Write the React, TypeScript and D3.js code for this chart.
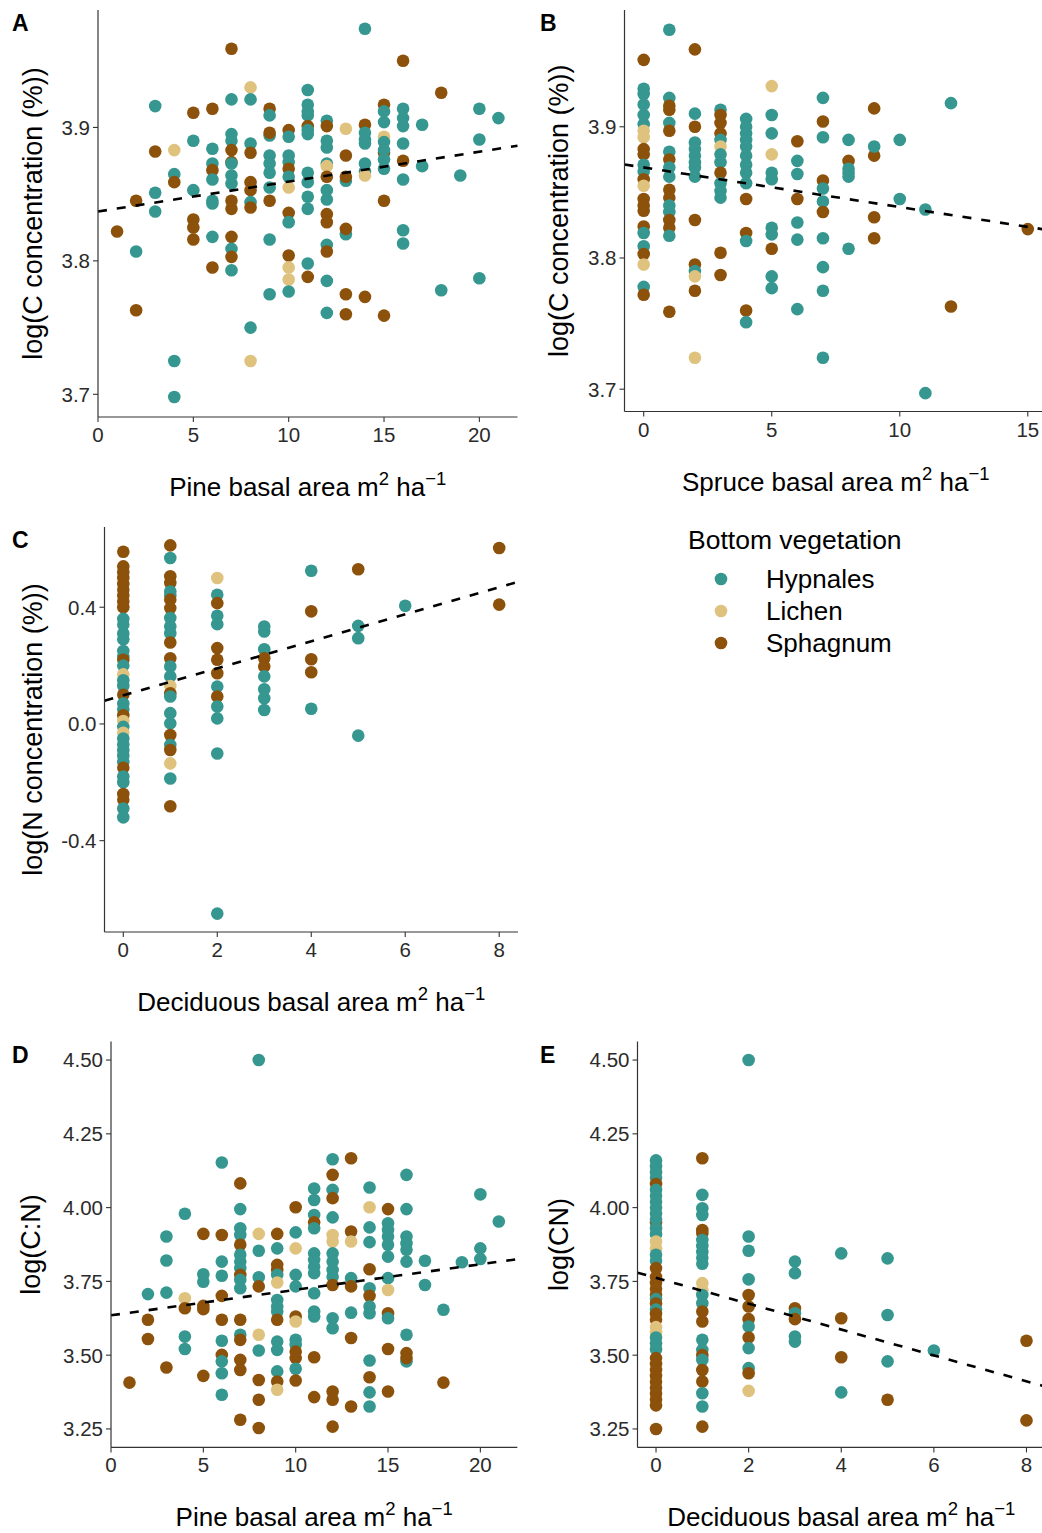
import React from "react";
import * as d3 from "d3";

type G = "H" | "L" | "S";
type Pt = [number, number, G];

const GROUP_KEYS: G[] = ["H", "L", "S"];
const GROUP_NAMES = ["Hypnales", "Lichen", "Sphagnum"];
const GROUP_COLORS = ["#35978f", "#dfc27d", "#8c510a"];
const LEGEND_TITLE = "Bottom vegetation";

// Panel A: pine basal area vs log(C concentration)
const panelA: Pt[] = [
  [1,3.822,"S"],
  [2,3.845,"S"],[2,3.807,"H"],[2,3.763,"S"],
  [3,3.916,"H"],[3,3.882,"S"],[3,3.851,"H"],[3,3.837,"H"],
  [4,3.883,"L"],[4,3.865,"H"],[4,3.859,"S"],[4,3.725,"H"],[4,3.698,"H"],
  [5,3.911,"S"],[5,3.890,"H"],[5,3.853,"H"],[5,3.831,"S"],[5,3.825,"S"],[5,3.816,"S"],
  [6,3.914,"S"],[6,3.884,"H"],[6,3.873,"H"],[6,3.868,"S"],[6,3.861,"H"],[6,3.845,"H"],[6,3.843,"H"],[6,3.818,"H"],[6,3.795,"S"],
  [7,3.959,"S"],[7,3.921,"H"],[7,3.895,"H"],[7,3.890,"H"],[7,3.883,"S"],[7,3.874,"S"],[7,3.873,"H"],[7,3.864,"H"],[7,3.858,"H"],[7,3.845,"S"],[7,3.839,"S"],[7,3.818,"S"],[7,3.809,"H"],[7,3.803,"S"],[7,3.793,"H"],
  [8,3.930,"L"],[8,3.921,"H"],[8,3.888,"H"],[8,3.881,"S"],[8,3.859,"S"],[8,3.853,"S"],[8,3.844,"H"],[8,3.840,"S"],[8,3.750,"H"],[8,3.725,"L"],
  [9,3.914,"S"],[9,3.909,"H"],[9,3.894,"H"],[9,3.896,"S"],[9,3.879,"H"],[9,3.873,"H"],[9,3.866,"H"],[9,3.855,"H"],[9,3.845,"S"],[9,3.816,"H"],[9,3.775,"H"],
  [10,3.898,"S"],[10,3.893,"H"],[10,3.879,"H"],[10,3.874,"H"],[10,3.869,"S"],[10,3.863,"H"],[10,3.855,"L"],[10,3.836,"S"],[10,3.829,"H"],[10,3.804,"S"],[10,3.795,"L"],[10,3.786,"L"],[10,3.777,"H"],
  [11,3.928,"H"],[11,3.917,"H"],[11,3.912,"H"],[11,3.909,"H"],[11,3.901,"S"],[11,3.898,"H"],[11,3.895,"H"],[11,3.866,"H"],[11,3.859,"H"],[11,3.848,"H"],[11,3.839,"H"],[11,3.798,"H"],[11,3.788,"S"],
  [12,3.905,"H"],[12,3.901,"S"],[12,3.890,"H"],[12,3.885,"H"],[12,3.873,"H"],[12,3.871,"L"],[12,3.863,"S"],[12,3.853,"H"],[12,3.846,"H"],[12,3.835,"S"],[12,3.829,"S"],[12,3.812,"H"],[12,3.807,"S"],[12,3.785,"H"],[12,3.761,"H"],
  [13,3.899,"L"],[13,3.879,"S"],[13,3.860,"H"],[13,3.863,"S"],[13,3.820,"H"],[13,3.824,"S"],[13,3.775,"S"],[13,3.760,"S"],
  [14,3.974,"H"],[14,3.902,"S"],[14,3.896,"H"],[14,3.891,"H"],[14,3.888,"H"],[14,3.873,"H"],[14,3.867,"H"],[14,3.864,"L"],[14,3.773,"S"],
  [15,3.917,"S"],[15,3.912,"H"],[15,3.904,"H"],[15,3.893,"L"],[15,3.889,"H"],[15,3.881,"S"],[15,3.883,"H"],[15,3.876,"H"],[15,3.869,"H"],[15,3.845,"S"],[15,3.759,"S"],
  [16,3.950,"S"],[16,3.914,"H"],[16,3.907,"H"],[16,3.901,"H"],[16,3.888,"H"],[16,3.875,"S"],[16,3.861,"H"],[16,3.823,"H"],[16,3.813,"H"],
  [17,3.902,"H"],[17,3.871,"H"],
  [18,3.926,"S"],[18,3.778,"H"],
  [19,3.864,"H"],
  [20,3.914,"H"],[20,3.891,"H"],[20,3.787,"H"],
  [21,3.907,"H"],
];

// Panel B: spruce basal area vs log(C concentration)
const panelB: Pt[] = [
  [0,3.951,"S"],[0,3.929,"H"],[0,3.925,"H"],[0,3.917,"H"],[0,3.909,"H"],[0,3.902,"H"],[0,3.897,"L"],[0,3.892,"L"],[0,3.883,"S"],[0,3.879,"S"],[0,3.871,"H"],[0,3.866,"H"],[0,3.860,"S"],[0,3.855,"L"],[0,3.845,"S"],[0,3.840,"S"],[0,3.836,"S"],[0,3.824,"S"],[0,3.819,"H"],[0,3.809,"H"],[0,3.803,"S"],[0,3.795,"L"],[0,3.778,"H"],[0,3.772,"S"],
  [1,3.974,"H"],[1,3.922,"H"],[1,3.916,"S"],[1,3.913,"S"],[1,3.903,"H"],[1,3.897,"S"],[1,3.881,"H"],[1,3.875,"S"],[1,3.869,"H"],[1,3.862,"H"],[1,3.852,"S"],[1,3.846,"S"],[1,3.840,"H"],[1,3.835,"H"],[1,3.829,"S"],[1,3.823,"S"],[1,3.817,"H"],[1,3.759,"S"],
  [2,3.959,"S"],[2,3.910,"H"],[2,3.900,"S"],[2,3.888,"H"],[2,3.883,"H"],[2,3.878,"H"],[2,3.873,"H"],[2,3.869,"H"],[2,3.862,"H"],[2,3.829,"S"],[2,3.795,"S"],[2,3.790,"H"],[2,3.786,"L"],[2,3.775,"S"],[2,3.724,"L"],
  [3,3.913,"H"],[3,3.909,"S"],[3,3.903,"S"],[3,3.895,"S"],[3,3.890,"H"],[3,3.885,"L"],[3,3.879,"H"],[3,3.873,"H"],[3,3.865,"S"],[3,3.857,"H"],[3,3.851,"H"],[3,3.846,"H"],[3,3.804,"S"],[3,3.787,"S"],
  [4,3.906,"H"],[4,3.900,"H"],[4,3.895,"H"],[4,3.890,"H"],[4,3.885,"H"],[4,3.878,"H"],[4,3.871,"H"],[4,3.865,"H"],[4,3.857,"H"],[4,3.845,"S"],[4,3.819,"S"],[4,3.813,"H"],[4,3.760,"S"],[4,3.751,"H"],
  [5,3.931,"L"],[5,3.909,"H"],[5,3.895,"H"],[5,3.879,"L"],[5,3.865,"H"],[5,3.860,"H"],[5,3.823,"H"],[5,3.818,"H"],[5,3.807,"S"],[5,3.786,"H"],[5,3.777,"H"],
  [6,3.889,"S"],[6,3.874,"H"],[6,3.864,"H"],[6,3.845,"S"],[6,3.827,"H"],[6,3.814,"H"],[6,3.761,"H"],
  [7,3.922,"H"],[7,3.904,"S"],[7,3.892,"H"],[7,3.859,"S"],[7,3.853,"H"],[7,3.843,"H"],[7,3.835,"S"],[7,3.815,"H"],[7,3.793,"H"],[7,3.775,"H"],[7,3.724,"H"],
  [8,3.890,"H"],[8,3.874,"S"],[8,3.868,"H"],[8,3.865,"H"],[8,3.862,"H"],[8,3.807,"H"],
  [9,3.914,"S"],[9,3.878,"S"],[9,3.885,"H"],[9,3.831,"S"],[9,3.815,"S"],
  [10,3.890,"H"],[10,3.845,"H"],
  [11,3.837,"H"],[11,3.697,"H"],
  [12,3.918,"H"],[12,3.763,"S"],
  [15,3.822,"S"],
];

// Panel C: deciduous basal area vs log(N concentration)
const panelC: Pt[] = [
  [0,0.59,"S"],[0,0.54,"S"],[0,0.52,"S"],[0,0.50,"S"],[0,0.48,"S"],[0,0.46,"S"],[0,0.44,"S"],[0,0.42,"S"],[0,0.40,"S"],[0,0.36,"H"],[0,0.34,"H"],[0,0.31,"H"],[0,0.29,"H"],[0,0.25,"H"],[0,0.23,"H"],[0,0.22,"S"],[0,0.20,"H"],[0,0.17,"L"],[0,0.15,"H"],[0,0.13,"H"],[0,0.10,"S"],[0,0.07,"H"],[0,0.05,"H"],[0,0.03,"S"],[0,0.01,"L"],[0,-0.01,"H"],[0,-0.03,"L"],[0,-0.05,"H"],[0,-0.07,"H"],[0,-0.09,"H"],[0,-0.11,"H"],[0,-0.13,"H"],[0,-0.15,"S"],[0,-0.18,"H"],[0,-0.20,"H"],[0,-0.24,"S"],[0,-0.26,"S"],[0,-0.29,"H"],[0,-0.32,"H"],
  [1,0.612,"S"],[1,0.569,"H"],[1,0.506,"S"],[1,0.483,"S"],[1,0.454,"H"],[1,0.44,"H"],[1,0.426,"S"],[1,0.397,"S"],[1,0.363,"H"],[1,0.334,"H"],[1,0.311,"H"],[1,0.279,"S"],[1,0.225,"S"],[1,0.197,"H"],[1,0.163,"H"],[1,0.130,"L"],[1,0.105,"S"],[1,0.094,"H"],[1,0.037,"H"],[1,0.002,"H"],[1,-0.038,"S"],[1,-0.072,"H"],[1,-0.089,"S"],[1,-0.135,"L"],[1,-0.187,"H"],[1,-0.282,"S"],
  [2,0.500,"L"],[2,0.443,"H"],[2,0.414,"S"],[2,0.371,"H"],[2,0.342,"H"],[2,0.260,"S"],[2,0.220,"S"],[2,0.174,"S"],[2,0.128,"H"],[2,0.094,"S"],[2,0.060,"H"],[2,0.019,"H"],[2,-0.101,"H"],[2,-0.650,"H"],
  [3,0.334,"H"],[3,0.317,"H"],[3,0.256,"H"],[3,0.225,"S"],[3,0.197,"S"],[3,0.163,"H"],[3,0.119,"H"],[3,0.088,"H"],[3,0.048,"H"],
  [4,0.525,"H"],[4,0.386,"S"],[4,0.222,"S"],[4,0.177,"S"],[4,0.052,"H"],
  [5,0.530,"S"],[5,0.336,"H"],[5,0.294,"H"],[5,-0.040,"H"],
  [6,0.405,"H"],
  [8,0.603,"S"],[8,0.409,"S"],
];

// Panel D: pine basal area vs log(C:N)
const panelD: Pt[] = [
  [1,3.407,"S"],
  [2,3.707,"H"],[2,3.620,"S"],[2,3.555,"S"],
  [3,3.902,"H"],[3,3.821,"H"],[3,3.712,"H"],[3,3.458,"S"],
  [4,3.979,"H"],[4,3.693,"L"],[4,3.659,"S"],[4,3.563,"H"],[4,3.521,"H"],
  [5,3.911,"S"],[5,3.774,"H"],[5,3.749,"H"],[5,3.667,"S"],[5,3.656,"S"],[5,3.430,"S"],
  [6,4.153,"H"],[6,3.907,"S"],[6,3.817,"H"],[6,3.769,"H"],[6,3.701,"S"],[6,3.620,"S"],[6,3.549,"H"],[6,3.501,"S"],[6,3.479,"H"],[6,3.439,"H"],[6,3.366,"H"],
  [7,4.082,"S"],[7,3.995,"H"],[7,3.930,"H"],[7,3.907,"H"],[7,3.874,"S"],[7,3.840,"H"],[7,3.817,"H"],[7,3.795,"H"],[7,3.772,"S"],[7,3.755,"H"],[7,3.727,"H"],[7,3.620,"S"],[7,3.569,"H"],[7,3.552,"S"],[7,3.484,"S"],[7,3.450,"S"],[7,3.281,"S"],
  [8,4.500,"H"],[8,3.911,"L"],[8,3.854,"H"],[8,3.764,"H"],[8,3.733,"S"],[8,3.569,"L"],[8,3.516,"H"],[8,3.416,"S"],[8,3.349,"S"],[8,3.253,"S"],
  [9,3.911,"S"],[9,3.862,"H"],[9,3.806,"S"],[9,3.789,"S"],[9,3.772,"H"],[9,3.746,"L"],[9,3.687,"H"],[9,3.665,"H"],[9,3.648,"H"],[9,3.620,"S"],[9,3.546,"H"],[9,3.518,"H"],[9,3.445,"H"],[9,3.411,"S"],[9,3.383,"L"],
  [10,4.001,"S"],[10,3.916,"H"],[10,3.862,"L"],[10,3.772,"H"],[10,3.733,"H"],[10,3.631,"S"],[10,3.614,"L"],[10,3.552,"H"],[10,3.535,"H"],[10,3.512,"S"],[10,3.490,"S"],[10,3.454,"H"],[10,3.414,"S"],
  [11,4.065,"H"],[11,4.026,"H"],[11,3.975,"H"],[11,3.950,"S"],[11,3.930,"H"],[11,3.845,"H"],[11,3.823,"H"],[11,3.800,"H"],[11,3.778,"H"],[11,3.710,"H"],[11,3.648,"H"],[11,3.631,"H"],[11,3.493,"S"],[11,3.358,"S"],
  [12,4.164,"H"],[12,4.111,"S"],[12,4.060,"H"],[12,4.032,"S"],[12,3.967,"H"],[12,3.907,"L"],[12,3.885,"L"],[12,3.845,"H"],[12,3.817,"H"],[12,3.789,"H"],[12,3.766,"H"],[12,3.738,"S"],[12,3.625,"H"],[12,3.591,"H"],[12,3.377,"S"],[12,3.349,"S"],[12,3.258,"S"],
  [13,4.167,"S"],[13,3.919,"S"],[13,3.885,"L"],[13,3.761,"H"],[13,3.733,"S"],[13,3.644,"H"],[13,3.558,"S"],[13,3.326,"S"],
  [14,4.068,"H"],[14,4.001,"L"],[14,3.933,"H"],[14,3.883,"H"],[14,3.791,"S"],[14,3.727,"H"],[14,3.701,"S"],[14,3.665,"H"],[14,3.642,"H"],[14,3.482,"H"],[14,3.425,"S"],[14,3.374,"H"],[14,3.326,"H"],
  [15,3.995,"S"],[15,3.947,"H"],[15,3.924,"H"],[15,3.902,"H"],[15,3.874,"H"],[15,3.834,"H"],[15,3.761,"H"],[15,3.721,"L"],[15,3.642,"S"],[15,3.625,"H"],[15,3.521,"S"],[15,3.377,"S"],
  [16,4.111,"H"],[16,3.995,"H"],[16,3.902,"H"],[16,3.879,"H"],[16,3.857,"H"],[16,3.817,"H"],[16,3.569,"H"],[16,3.479,"H"],[16,3.507,"S"],[16,3.490,"S"],
  [17,3.820,"H"],[17,3.738,"H"],
  [18,3.654,"H"],[18,3.407,"S"],
  [19,3.815,"H"],
  [20,4.045,"H"],[20,3.862,"H"],[20,3.826,"H"],
  [21,3.953,"H"],
];

// Panel E: deciduous basal area vs log(CN)
const panelE: Pt[] = [
  [0,4.16,"H"],[0,4.14,"H"],[0,4.12,"H"],[0,4.10,"H"],[0,4.08,"S"],[0,4.06,"H"],[0,4.04,"H"],[0,4.02,"H"],[0,4.00,"H"],[0,3.98,"H"],[0,3.95,"S"],[0,3.96,"H"],[0,3.93,"H"],[0,3.91,"H"],[0,3.885,"L"],[0,3.862,"L"],[0,3.84,"H"],[0,3.82,"H"],[0,3.795,"S"],[0,3.765,"S"],[0,3.745,"S"],[0,3.725,"S"],[0,3.705,"S"],[0,3.69,"H"],[0,3.675,"S"],[0,3.655,"H"],[0,3.64,"S"],[0,3.62,"S"],[0,3.595,"L"],[0,3.575,"L"],[0,3.56,"H"],[0,3.54,"H"],[0,3.52,"H"],[0,3.49,"S"],[0,3.47,"S"],[0,3.45,"S"],[0,3.43,"S"],[0,3.41,"S"],[0,3.39,"S"],[0,3.37,"S"],[0,3.35,"S"],[0,3.33,"S"],[0,3.25,"S"],
  [1,4.167,"S"],[1,4.043,"H"],[1,3.998,"H"],[1,3.975,"H"],[1,3.924,"S"],[1,3.913,"S"],[1,3.890,"H"],[1,3.870,"H"],[1,3.850,"H"],[1,3.830,"H"],[1,3.810,"H"],[1,3.744,"L"],[1,3.720,"L"],[1,3.704,"H"],[1,3.676,"H"],[1,3.648,"S"],[1,3.614,"S"],[1,3.552,"H"],[1,3.518,"H"],[1,3.500,"S"],[1,3.484,"H"],[1,3.450,"S"],[1,3.411,"S"],[1,3.371,"H"],[1,3.326,"H"],[1,3.258,"S"],
  [2,4.500,"H"],[2,3.902,"H"],[2,3.854,"H"],[2,3.757,"H"],[2,3.704,"S"],[2,3.665,"S"],[2,3.622,"S"],[2,3.597,"H"],[2,3.560,"S"],[2,3.524,"H"],[2,3.456,"H"],[2,3.439,"S"],[2,3.379,"L"],
  [3,3.817,"H"],[3,3.778,"H"],[3,3.659,"S"],[3,3.642,"H"],[3,3.622,"S"],[3,3.563,"H"],[3,3.546,"H"],
  [4,3.845,"H"],[4,3.625,"S"],[4,3.493,"S"],[4,3.374,"H"],
  [5,3.828,"H"],[5,3.636,"H"],[5,3.479,"H"],[5,3.349,"S"],
  [6,3.516,"H"],
  [8,3.549,"S"],[8,3.279,"S"],
];

// fitted regression lines: [intercept, slope]
const fitA = [3.837, 0.00224];
const fitB = [3.869, -0.00302];
const fitC = [0.098, 0.0463];
const fitD = [3.635, 0.00865];
const fitE = [3.762, -0.0438];

const ticksPine = [0, 5, 10, 15, 20];
const ticksSpruce = [0, 5, 10, 15];
const ticksDecid = [0, 2, 4, 6, 8];
const ticksC = [3.7, 3.8, 3.9];
const ticksN = [-0.4, 0.0, 0.4];
const ticksCN = [3.25, 3.5, 3.75, 4.0, 4.25, 4.5];

const FONT = "'Liberation Sans', Arial, Helvetica, sans-serif";
const TICK_COL = "#2b2b2b";

interface PanelCfg {
  letter: string;
  data: Pt[];
  fit: number[];
  xDomain: [number, number];
  yDomain: [number, number];
  left: number; right: number; top: number; bottom: number;
  xTicks: number[]; yTicks: number[]; yDigits: number;
  xName: string; yTitle: string; yTitleX: number;
  letterX: number; letterY: number;
}

const panels: PanelCfg[] = [
  { letter: "A", data: panelA, fit: fitA, xDomain: [0, 22], yDomain: [3.683, 3.988],
    left: 98, right: 517.5, top: 10, bottom: 417, xTicks: ticksPine, yTicks: ticksC, yDigits: 1,
    xName: "Pine", yTitle: "log(C concentration (%))", yTitleX: 32, letterX: 12, letterY: 31 },
  { letter: "B", data: panelB, fit: fitB, xDomain: [-0.75, 15.75], yDomain: [3.683, 3.989],
    left: 624.5, right: 1047, top: 10, bottom: 411.5, xTicks: ticksSpruce, yTicks: ticksC, yDigits: 1,
    xName: "Spruce", yTitle: "log(C concentration (%))", yTitleX: 558, letterX: 540, letterY: 31 },
  { letter: "C", data: panelC, fit: fitC, xDomain: [-0.4, 8.4], yDomain: [-0.713, 0.675],
    left: 104.5, right: 518, top: 527, bottom: 932, xTicks: ticksDecid, yTicks: ticksN, yDigits: 1,
    xName: "Deciduous", yTitle: "log(N concentration (%))", yTitleX: 32, letterX: 12, letterY: 548 },
  { letter: "D", data: panelD, fit: fitD, xDomain: [0, 22], yDomain: [3.1875, 4.5625],
    left: 111, right: 517.3, top: 1041.6, bottom: 1447.4, xTicks: ticksPine, yTicks: ticksCN, yDigits: 2,
    xName: "Pine", yTitle: "log(C:N)", yTitleX: 30, letterX: 12, letterY: 1063 },
  { letter: "E", data: panelE, fit: fitE, xDomain: [-0.4, 8.4], yDomain: [3.1875, 4.5625],
    left: 637.5, right: 1045, top: 1041.6, bottom: 1447.4, xTicks: ticksDecid, yTicks: ticksCN, yDigits: 2,
    xName: "Deciduous", yTitle: "log(CN)", yTitleX: 558, letterX: 540, letterY: 1063 },
];

const colorOf = (g: G) => GROUP_COLORS[GROUP_KEYS.indexOf(g)];

function Panel({ cfg }: { cfg: PanelCfg }) {
  const x = d3.scaleLinear().domain(cfg.xDomain).range([cfg.left, cfg.right]);
  const y = d3.scaleLinear().domain(cfg.yDomain).range([cfg.bottom, cfg.top]);
  const [b0, b1] = cfg.fit;
  const lineGen = d3.line<number>().x((v) => x(v)).y((v) => y(b0 + b1 * v));
  const linePath = lineGen(cfg.xDomain) || "";
  const tickLen = 5;
  const cx = (cfg.left + cfg.right) / 2;
  const cy = (cfg.top + cfg.bottom) / 2;
  const titleY = cfg.bottom + 79;
  return (
    <g>
      {cfg.data.map((d, i) => (
        <circle key={i} cx={x(d[0])} cy={y(d[1])} r={6.3} fill={colorOf(d[2])} />
      ))}
      <path d={linePath} fill="none" stroke="#000" strokeWidth={2.6} strokeDasharray="9,10" />
      <line x1={cfg.left} x2={cfg.left} y1={cfg.top} y2={cfg.bottom} stroke="#333" strokeWidth={1.2} />
      <line x1={cfg.left} x2={cfg.right} y1={cfg.bottom} y2={cfg.bottom} stroke="#333" strokeWidth={1.2} />
      {cfg.yTicks.map((t) => (
        <g key={"y" + t}>
          <line x1={cfg.left - tickLen} x2={cfg.left} y1={y(t)} y2={y(t)} stroke="#333" strokeWidth={1.1} />
          <text x={cfg.left - tickLen - 3} y={y(t)} dy="0.36em" textAnchor="end" fontSize={20.5} fill={TICK_COL} fontFamily={FONT}>
            {t.toFixed(cfg.yDigits)}
          </text>
        </g>
      ))}
      {cfg.xTicks.map((t) => (
        <g key={"x" + t}>
          <line x1={x(t)} x2={x(t)} y1={cfg.bottom} y2={cfg.bottom + tickLen} stroke="#333" strokeWidth={1.1} />
          <text x={x(t)} y={cfg.bottom + tickLen + 20} textAnchor="middle" fontSize={20.5} fill={TICK_COL} fontFamily={FONT}>
            {String(t)}
          </text>
        </g>
      ))}
      <text x={cx} y={titleY} textAnchor="middle" fontSize={26} fill="#000" fontFamily={FONT}>
        <tspan>{cfg.xName + " basal area m"}</tspan>
        <tspan fontSize={18.5} dy={-11}>2</tspan>
        <tspan dy={11}>{" ha"}</tspan>
        <tspan fontSize={18.5} dy={-11}>{"\u22121"}</tspan>
      </text>
      <text transform={`translate(${cfg.yTitleX},${cy}) rotate(-90)`} textAnchor="middle" dy="0.36em" fontSize={27} fill="#000" fontFamily={FONT}>
        {cfg.yTitle}
      </text>
      <text x={cfg.letterX} y={cfg.letterY} fontSize={23} fontWeight="bold" fill="#000" fontFamily={FONT}>
        {cfg.letter}
      </text>
    </g>
  );
}

function Legend() {
  const items = GROUP_NAMES.map((n, i) => ({ n, c: GROUP_COLORS[i], yy: 579 + i * 32 }));
  return (
    <g fontFamily={FONT}>
      <text x={688} y={549} fontSize={26.5} fill="#000">{LEGEND_TITLE}</text>
      {items.map((it) => (
        <g key={it.n}>
          <circle cx={721} cy={it.yy} r={6.3} fill={it.c} />
          <text x={766} y={it.yy} dy="0.36em" fontSize={26} fill="#000">{it.n}</text>
        </g>
      ))}
    </g>
  );
}

export default function App() {
  return (
    <div style={{ position: "absolute", left: 0, top: 0, width: 1042, height: 1533, background: "#fff" }}>
      <svg width={1042} height={1533} style={{ display: "block" }}>
        <rect width={1042} height={1533} fill="#fff" />
        {panels.map((p) => (
          <Panel key={p.letter} cfg={p} />
        ))}
        <Legend />
      </svg>
    </div>
  );
}
